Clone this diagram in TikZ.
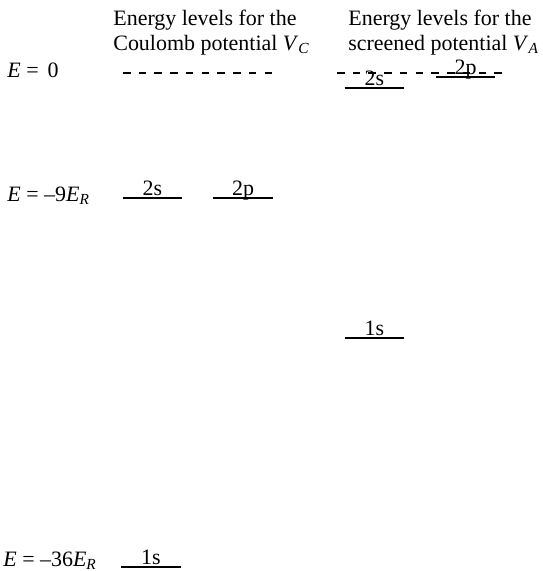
\documentclass[tikz,border=0pt]{standalone}
\usepackage{fontspec}
\setmainfont{Liberation Serif}
\usepackage{tikz}
\usetikzlibrary{positioning}

\begin{document}
\begin{tikzpicture}[x=0.02cm,y=-0.02cm,font=\fontsize{12.5}{14.2}\selectfont,
  ttl/.style={align=left,anchor=north west,inner sep=0pt},
  elab/.style={anchor=base west,inner sep=0pt},
  lvl/.style={minimum width=1.18cm,inner xsep=0pt,inner ysep=1.5pt,text height=8.6pt,text depth=0pt,anchor=south,
    append after command={(\tikzlastnode.south west) edge[line width=0.85pt] (\tikzlastnode.south east)}},
  zero/.style={draw,line width=0.65pt,dash pattern=on 0.15cm off 0.165cm}]
  \useasboundingbox (0,0) rectangle (543,571);
  % column titles
  \node[ttl] (tc) at (113,10) {Energy levels for the\\Coulomb potential \textit{V}\textsubscript{\textit{C}}};
  \node[ttl] (ta) at (348,10) {Energy levels for the\\screened potential \textit{V}\textsubscript{\textit{A}}};
  % energy values
  \node[elab] (e0) at (7,78) {\textit{E} = \kern2pt0};
  \node[elab] (e9) at (7,201) {\textit{E} = –9\textit{E}\textsubscript{\textit{R}}};
  \node[elab] (e36) at (3,566) {\textit{E} = –36\textit{E}\textsubscript{\textit{R}}};
  % E = 0 lines
  \coordinate (c0a) at (123,73);
  \coordinate (c0b) at (272,73);
  \coordinate (a0a) at (337,73);
  \coordinate (a0b) at (502,73);
  \draw[zero] (c0a) -- (c0b);
  \draw[zero] (a0a) -- (a0b);
  % Coulomb potential
  \node[lvl] (c2s) at (152.5,198) {2s};
  \node[lvl] (c2p) at (243,198) {2p};
  \node[lvl] (c1s) at (151,567) {1s};
  % screened potential
  \node[lvl] (a2s) at (374.5,88) {2s};
  \node[lvl] (a2p) at (465.5,77) {2p};
  \node[lvl] (a1s) at (374.5,338) {1s};
\end{tikzpicture}
\end{document}
